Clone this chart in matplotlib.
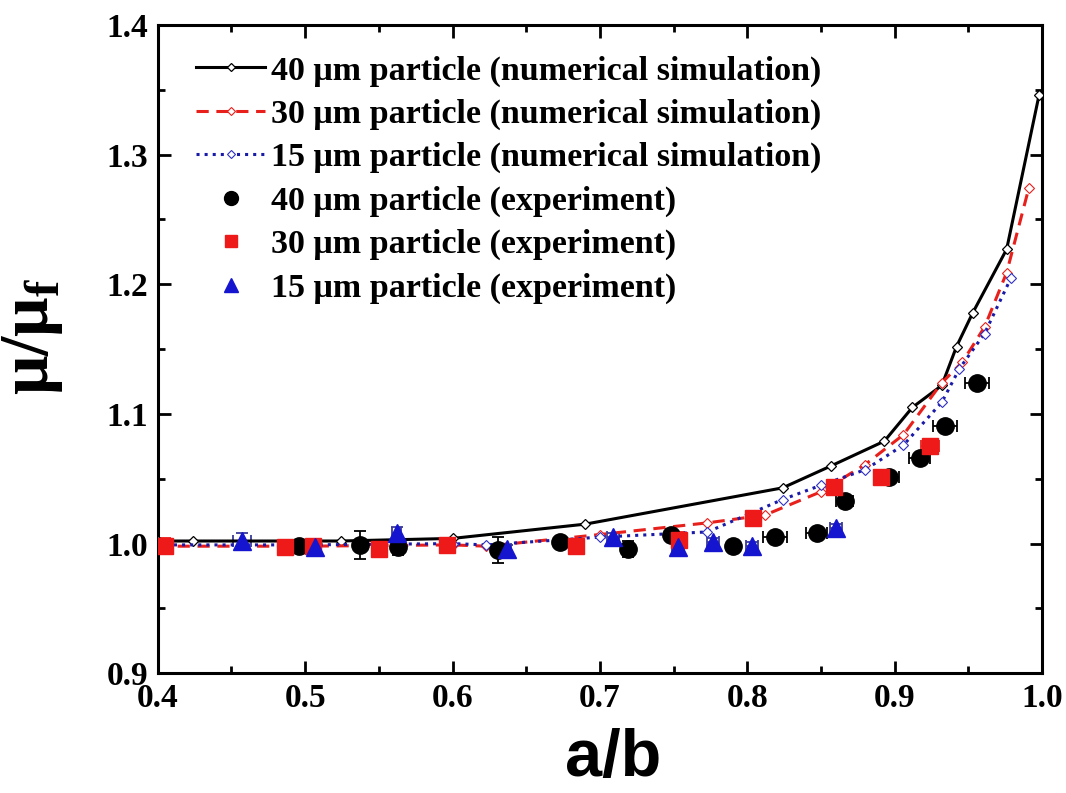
import numpy as np
import matplotlib.pyplot as plt
from matplotlib.ticker import MultipleLocator

# numerical simulation
sim40_x = [0.40, 0.424, 0.524, 0.60, 0.69, 0.824, 0.857, 0.893, 0.912, 0.932, 0.942, 0.953, 0.976, 0.998]
sim40_y = [1.002, 1.002, 1.002, 1.004, 1.015, 1.043, 1.060, 1.079, 1.105, 1.122, 1.152, 1.178, 1.227, 1.346]
sim30_x = [0.40, 0.50, 0.60, 0.623, 0.70, 0.773, 0.812, 0.85, 0.88, 0.906, 0.932, 0.946, 0.961, 0.976, 0.991]
sim30_y = [0.998, 0.998, 0.999, 0.998, 1.007, 1.016, 1.022, 1.040, 1.061, 1.084, 1.124, 1.140, 1.167, 1.209, 1.274]
sim15_x = [0.40, 0.50, 0.60, 0.623, 0.70, 0.773, 0.824, 0.85, 0.88, 0.906, 0.932, 0.944, 0.961, 0.979]
sim15_y = [0.999, 0.999, 1.000, 0.999, 1.005, 1.009, 1.034, 1.045, 1.057, 1.076, 1.109, 1.135, 1.162, 1.205]

# experiment
exp40_x = [0.496, 0.537, 0.563, 0.631, 0.673, 0.719, 0.748, 0.790, 0.819, 0.847, 0.866, 0.896, 0.917, 0.934, 0.956]
exp40_y = [0.998, 0.999, 0.997, 0.995, 1.001, 0.996, 1.007, 0.998, 1.005, 1.008, 1.033, 1.051, 1.066, 1.091, 1.124]
exp40_xerr = [0.002, 0.002, 0.002, 0.002, 0.002, 0.002, 0.002, 0.003, 0.008, 0.007, 0.006, 0.007, 0.007, 0.008, 0.008]
exp40_yerr = [0.003, 0.011, 0.006, 0.010, 0.003, 0.006, 0.004, 0.003, 0.002, 0.002, 0.002, 0.002, 0.002, 0.002, 0.002]
exp30_x = [0.405, 0.486, 0.505, 0.550, 0.596, 0.684, 0.754, 0.804, 0.859, 0.891, 0.924]
exp30_y = [0.998, 0.997, 0.998, 0.996, 0.999, 0.998, 1.003, 1.020, 1.044, 1.051, 1.075]
exp30_xerr = [0.003, 0.004, 0.003, 0.002, 0.003, 0.002, 0.003, 0.003, 0.004, 0.005, 0.006]
exp30_yerr = [0.006, 0.006, 0.005, 0.003, 0.004, 0.003, 0.006, 0.003, 0.003, 0.003, 0.003]
exp15_x = [0.457, 0.507, 0.562, 0.637, 0.709, 0.753, 0.777, 0.803, 0.860]
exp15_y = [1.002, 0.997, 1.008, 0.996, 1.005, 0.997, 1.001, 0.998, 1.012]
exp15_xerr = [0.006, 0.004, 0.003, 0.003, 0.004, 0.004, 0.004, 0.004, 0.004]
exp15_yerr = [0.006, 0.003, 0.005, 0.003, 0.003, 0.005, 0.003, 0.003, 0.003]

plt.rcParams['font.family'] = ['Liberation Serif', 'DejaVu Serif']
plt.rcParams['font.weight'] = 'bold'

fig = plt.figure(figsize=(10.66, 7.93), dpi=100)
ax = fig.add_axes([0.148, 0.151, 0.8295, 0.8175])

ax.plot(sim40_x, sim40_y, '-', color='black', lw=2.2, marker='D', ms=5, mfc='white', mec='black', mew=0.9,
        label='40 \u03bcm particle (numerical simulation)', zorder=3)
ax.plot(sim30_x, sim30_y, '--', color='#e8201c', lw=2.2, dashes=(4, 2.5), marker='D', ms=5, mfc='white',
        mec='#e8201c', mew=0.8, label='30 \u03bcm particle (numerical simulation)', zorder=3)
ax.plot(sim15_x, sim15_y, ':', color='#1a1aa8', lw=2.2, marker='D', ms=5, mfc='white', mec='#3030c0', mew=0.8,
        label='15 \u03bcm particle (numerical simulation)', zorder=3)

ax.errorbar(exp40_x, exp40_y, xerr=exp40_xerr, yerr=exp40_yerr, fmt='none', ecolor='black', elinewidth=1.3,
            capsize=4, capthick=1.3, zorder=2)
ax.errorbar(exp30_x, exp30_y, xerr=exp30_xerr, yerr=exp30_yerr, fmt='none', ecolor='#e8201c', elinewidth=1.3,
            capsize=4, capthick=1.3, zorder=2)
ax.errorbar(exp15_x, exp15_y, xerr=exp15_xerr, yerr=exp15_yerr, fmt='none', ecolor='#3a3a9a', elinewidth=1.3,
            capsize=4, capthick=1.3, zorder=2)
ax.plot(exp40_x, exp40_y, 'o', color='black', ms=12.5, label='40 \u03bcm particle (experiment)', zorder=4)
ax.plot(exp30_x, exp30_y, 's', color='#ee1a1a', ms=11.5, label='30 \u03bcm particle (experiment)', zorder=4)
ax.plot(exp15_x, exp15_y, '^', color='#1515d0', ms=13, label='15 \u03bcm particle (experiment)', zorder=4)

ax.set_xlim(0.4, 1.0)
ax.set_ylim(0.9, 1.4)
ax.xaxis.set_major_locator(MultipleLocator(0.1))
ax.xaxis.set_minor_locator(MultipleLocator(0.05))
ax.yaxis.set_major_locator(MultipleLocator(0.1))
ax.yaxis.set_minor_locator(MultipleLocator(0.05))
ax.tick_params(which='both', direction='in', top=True, right=True, width=2)
ax.tick_params(which='major', length=9, labelsize=24, pad=7)
ax.tick_params(which='minor', length=5)
for s in ax.spines.values():
    s.set_linewidth(2.2)

ax.set_xlabel('a/b', fontsize=48, fontweight='bold', family='Liberation Sans', labelpad=12)
ax.xaxis.set_label_coords(0.515, -0.085, transform=ax.transAxes)
ax.xaxis.label.set_verticalalignment('top')
ax.set_ylabel('\u03bc/\u03bc$_\\mathregular{f}$', fontsize=50, fontweight='bold', family='Liberation Serif',
              labelpad=22)
ax.yaxis.set_label_coords(-0.105, 0.52, transform=ax.transAxes)

ax.legend(loc='upper left', frameon=False, fontsize=24.5, handlelength=2.05, handletextpad=0.15,
          labelspacing=0.36, borderaxespad=0.3, bbox_to_anchor=(0.016, 0.99), markerscale=0.8)

fig.savefig('out.png', dpi=100)
